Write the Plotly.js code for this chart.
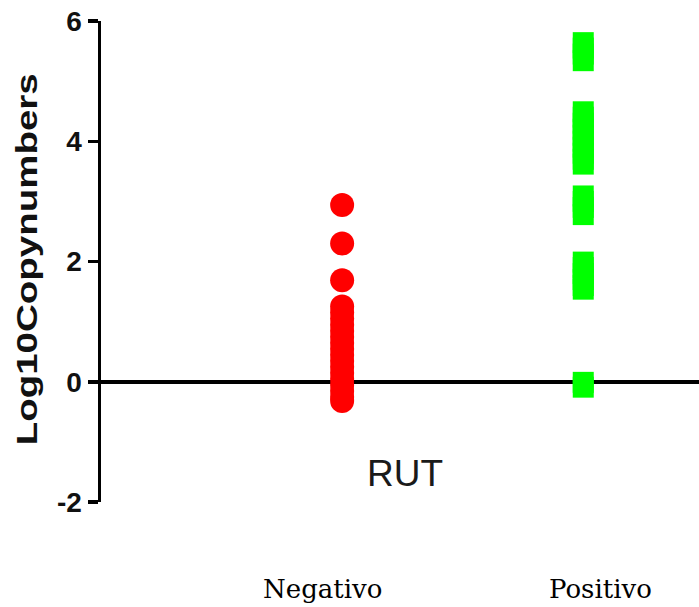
<!DOCTYPE html>
<html>
<head>
<meta charset="utf-8">
<script src="https://cdn.plot.ly/plotly-3.0.1.min.js"></script>
<style>html,body{margin:0;padding:0;background:#fff;}#chart{width:699px;height:607px;}</style>
</head>
<body>
<div id="chart"></div>
<script>
const groupNames = ["Negativo", "Positivo"];
const groupPositions = [1, 2];
const negativoValues = [2.94, 2.30, 1.69, 1.25, 1.15, 1.05, 0.95, 0.85, 0.75, 0.65, 0.55, 0.45, 0.35, 0.25, 0.15, 0.05, -0.05, -0.15, -0.25, -0.32];
const positivoValues = [5.64, 5.55, 5.45, 5.34, 4.49, 4.40, 4.30, 4.20, 4.10, 4.00, 3.90, 3.80, 3.70, 3.62, 3.09, 3.00, 2.90, 2.78, 1.99, 1.90, 1.80, 1.70, 1.60, 1.54, -0.01, -0.09];
const yTicks = [-2, 0, 2, 4, 6];
const yTickLabels = ["-2", "0", "2", "4", "6"];
const yTitle = "Log10Copynumbers";
const groupTitle = "RUT";

const traces = [
  {
    x: negativoValues.map(() => groupPositions[0]),
    y: negativoValues,
    type: 'scatter', mode: 'markers', name: groupNames[0],
    marker: {symbol: 'circle', size: 24, color: '#ff0000', line: {width: 0}},
    hoverinfo: 'y'
  },
  {
    x: positivoValues.map(() => groupPositions[1]),
    y: positivoValues,
    type: 'scatter', mode: 'markers', name: groupNames[1],
    marker: {symbol: 'square', size: 21, color: '#00ff00', line: {width: 0}},
    hoverinfo: 'y'
  }
];

const layout = {
  width: 699, height: 607,
  margin: {l: 101, r: 0, t: 21, b: 105, pad: 0},
  paper_bgcolor: '#ffffff', plot_bgcolor: '#ffffff',
  showlegend: false,
  xaxis: {
    range: [0, 2.48], visible: false, showgrid: false, zeroline: false, fixedrange: true
  },
  yaxis: {
    range: [-2, 6], showgrid: false,
    zeroline: true, zerolinecolor: '#000000', zerolinewidth: 3.5,
    showline: true, linecolor: '#000000', linewidth: 3.5,
    ticks: 'outside', ticklen: 10, tickwidth: 3.5, tickcolor: '#000000',
    tickvals: yTicks, ticktext: yTickLabels,
    tickfont: {family: 'Liberation Sans, Arial, sans-serif', size: 28, color: '#111111', weight: 'bold'},
    fixedrange: true
  },
  annotations: [
    {text: yTitle, xref: 'paper', yref: 'paper', x: -0.125, y: 0.505,
     xanchor: 'center', yanchor: 'middle', textangle: -90, showarrow: false,
     font: {family: 'Liberation Sans, Arial, sans-serif', size: 30, color: '#111111', weight: 'bold'}},
    {text: groupTitle, xref: 'paper', yref: 'y', x: 0.508, y: -1.53,
     xanchor: 'center', yanchor: 'middle', showarrow: false,
     font: {family: 'Liberation Sans, Arial, sans-serif', size: 37, color: '#1a1a1a'}},
    {text: groupNames[0], xref: 'paper', yref: 'paper', x: 0.371, y: -0.18,
     xanchor: 'center', yanchor: 'middle', showarrow: false,
     font: {family: 'DejaVu Serif, Liberation Serif, serif', size: 26, color: '#000000'}},
    {text: groupNames[1], xref: 'paper', yref: 'paper', x: 0.836, y: -0.18,
     xanchor: 'center', yanchor: 'middle', showarrow: false,
     font: {family: 'DejaVu Serif, Liberation Serif, serif', size: 26, color: '#000000'}}
  ]
};

Plotly.newPlot('chart', traces, layout, {displayModeBar: false, staticPlot: true}).then(() => {
  document.querySelectorAll('.annotation-text').forEach(el => {
    if (el.textContent === yTitle) {
      el.setAttribute('textLength', '372');
      el.setAttribute('lengthAdjust', 'spacingAndGlyphs');
    }
  });
});
</script>
</body>
</html>
